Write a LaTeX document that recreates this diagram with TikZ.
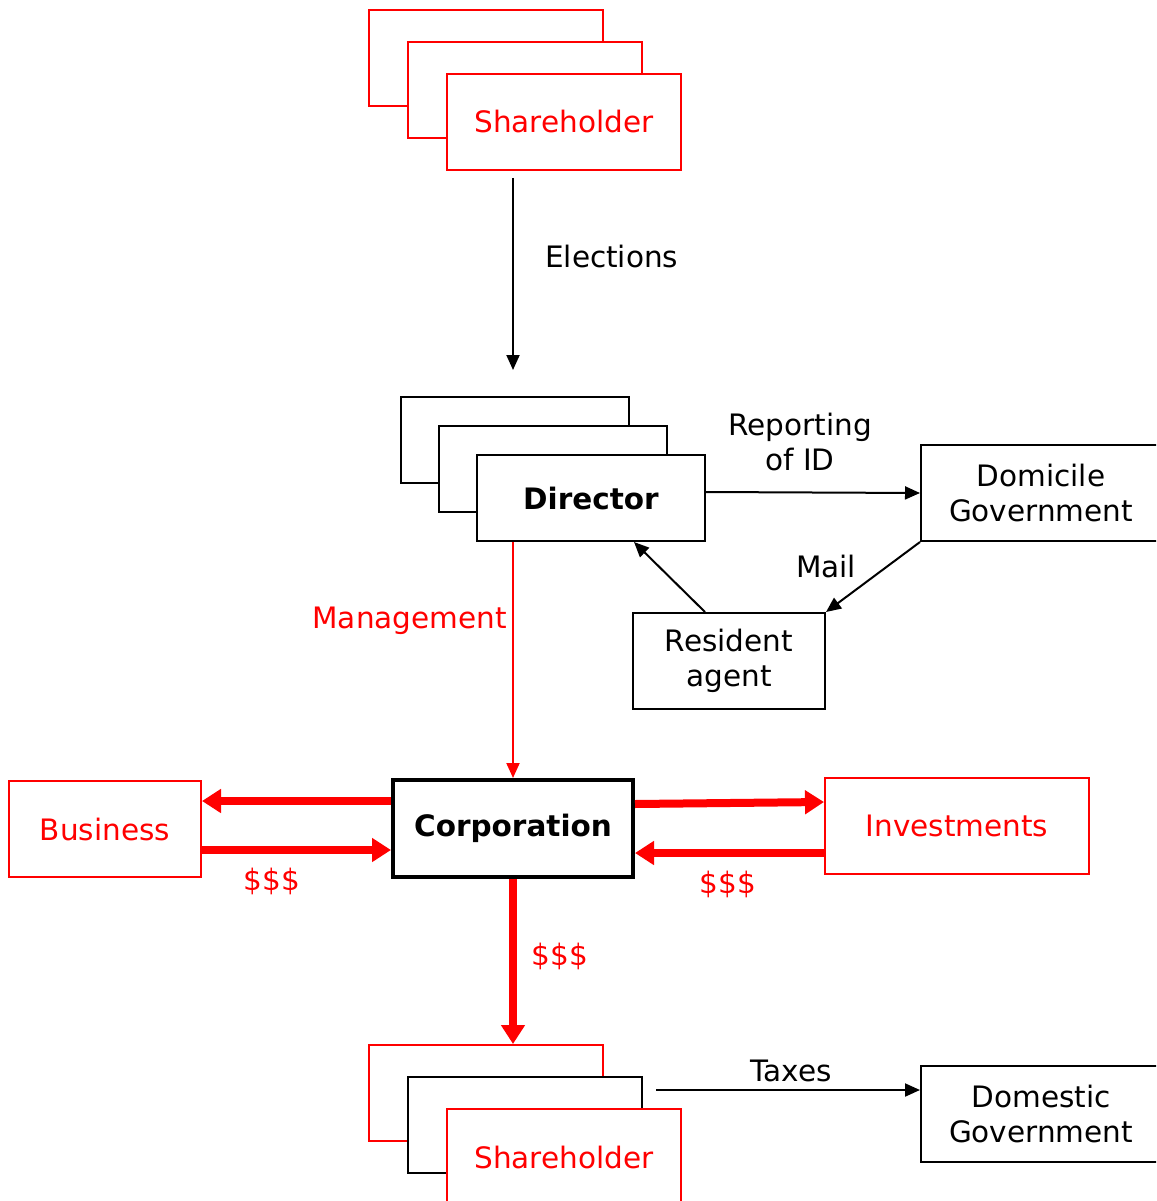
\documentclass[tikz,border=0pt]{standalone}
\usepackage{fontspec}
\setmainfont{DejaVu Sans}
\usetikzlibrary{arrows.meta}
\begin{document}
\begin{tikzpicture}[x=1pt,y=-1pt,
  box/.style={draw=black, line width=2pt, inner sep=0pt, align=center, font=\fontsize{29.5}{35}\selectfont},
  redbox/.style={box, draw=red, text=red},
  stackbox/.style={minimum width=234pt, minimum height=96pt},
  dirbox/.style={minimum width=228pt, minimum height=86pt},
  thinarrow/.style={line width=2pt, -{Triangle[length=15pt,width=13pt]}},
  fatarrow/.style={red, line width=8pt, -{Triangle[length=19pt,width=23pt]}},
  lbl/.style={font=\fontsize{29.5}{35}\selectfont, inner sep=0pt, align=center}]
\useasboundingbox (0,0) rectangle (1156,1201);
\clip (0,0) rectangle (1156,1201);
\fill[white] (0,0) rectangle (1156,1201);

% top shareholder stack
\node[redbox, stackbox, fill=white] (sha) at (486,58) {};
\node[redbox, stackbox, fill=white] (shb) at (525,90) {};
\node[redbox, stackbox, fill=white] (shc) at (564,122) {Shareholder};

% director stack
\node[box, dirbox, fill=white] (dira) at (515,440) {};
\node[box, dirbox, fill=white] (dirb) at (553,469) {};
\node[box, dirbox, fill=white, font=\fontsize{29.5}{35}\selectfont\bfseries] (dir) at (591,498) {Director};

% right boxes
\node[box, minimum width=240pt, minimum height=96pt] (dom) at (1041,493) {Domicile\\Government};
\node[box, minimum width=192pt, minimum height=96pt] (res) at (729,661) {Resident\\agent};

% corporation row
\node[box, line width=4pt, minimum width=240pt, minimum height=97pt, font=\fontsize{29.5}{35}\selectfont\bfseries] (corp) at (513,828.5) {Corporation};
\node[redbox, minimum width=192pt, minimum height=96pt] (biz) at (105,829) {Business};
\node[redbox, minimum width=264pt, minimum height=96pt] (inv) at (957,826) {Investments};

% bottom shareholder stack
\node[redbox, stackbox, fill=white] (sba) at (486,1093) {};
\node[box, stackbox, fill=white] (sbb) at (525,1125) {};
\node[redbox, stackbox, fill=white] (sbc) at (564,1157) {Shareholder};

\node[box, minimum width=240pt, minimum height=96pt] (dg) at (1041,1114) {Domestic\\Government};

% connectors
\coordinate (e1) at (513,178);
\coordinate (e2) at (513,370);
\draw[thinarrow] (e1) -- (e2);
\node[lbl, anchor=base west] (elab) at (545,267) {Elections};

\draw[thinarrow] ([yshift=6pt]dir.east) -- (dom.west);
\node[lbl, anchor=base] (rlab) at (800,470) {Reporting\\of ID};

\draw[thinarrow] (dom.south west) -- (res.north east);
\node[lbl, anchor=base] (mlab) at (826,577) {Mail};

\draw[thinarrow] ([xshift=-24pt]res.north) -- ([xshift=43pt]dir.south);

\draw[red, line width=2pt, -{Triangle[length=15pt,width=13pt]}] (corp.north |- dir.south) -- (corp.north);
\node[lbl, anchor=base east, text=red] (mglab) at (507,628) {Management};

\draw[fatarrow] ([yshift=27.5pt]corp.west) -- ([yshift=27.5pt]corp.west -| biz.east);
\draw[fatarrow] ([yshift=-21.5pt]corp.west -| biz.east) -- ([yshift=-21.5pt]corp.west);
\node[lbl, anchor=base, text=red] (d1) at (272,890) {\$\$\$};

\draw[fatarrow] ([yshift=24.5pt]corp.east) -- ([yshift=24pt]inv.west);
\draw[fatarrow] ([yshift=-27pt]inv.west) -- ([yshift=-24.5pt]corp.east);
\node[lbl, anchor=base, text=red] (d2) at (728,893) {\$\$\$};

\draw[fatarrow] (corp.south) -- (corp.south |- sba.north);
\node[lbl, anchor=base, text=red] (d3) at (560,965) {\$\$\$};

\coordinate (t1) at (656,1090);
\draw[thinarrow] (t1) -- (t1 -| dg.west);
\node[lbl, anchor=base] (tlab) at (791,1081) {Taxes};
\end{tikzpicture}
\end{document}
